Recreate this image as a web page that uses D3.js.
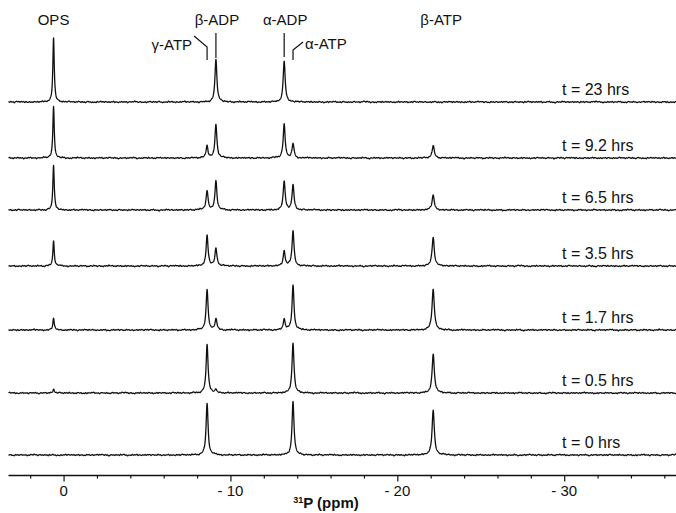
<!DOCTYPE html>
<html>
<head>
<meta charset="utf-8">
<script src="https://cdn.jsdelivr.net/npm/d3@7"></script>
<style>
  html, body { margin: 0; padding: 0; background: #fff; }
  svg { display: block; }
  text { font-family: "Liberation Sans", Arial, Helvetica, sans-serif; fill: #111; }
</style>
</head>
<body>
<svg id="chart" width="676" height="513"></svg>
<script>
// ---- data ----
const timeLabels = ["t = 23 hrs", "t = 9.2 hrs", "t = 6.5 hrs", "t = 3.5 hrs", "t = 1.7 hrs", "t = 0.5 hrs", "t = 0 hrs"];
const species = ["OPS", "γ-ATP", "β-ADP", "α-ADP", "α-ATP", "β-ATP"];
const shifts = [0.6, -8.6, -9.13, -13.22, -13.75, -22.15];         // ppm
const widths = [0.05, 0.07, 0.07, 0.07, 0.07, 0.08];              // half-width, ppm
// relative intensities (OPS at t = 23 hrs = 100), one row per spectrum
const intensOPS  = [100, 80, 69, 39, 19, 6, 0];
const intensGATP = [0, 19, 31, 48, 63, 75, 81];
const intensBADP = [66, 52, 45, 28, 17, 5, 0];
const intensAADP = [64, 53, 45, 23, 16, 0, 0];
const intensAATP = [0, 22, 39, 55, 70, 78, 84];
const intensBATP = [0, 19, 23, 45, 64, 61, 70];
const xTicks = [0, -10, -20, -30];
// fixed baseline texture (hand typed, px)
const textureFine = [0.3,-0.6,0.9,-0.2,0.5,-1.0,0.1,0.7,-0.4,0.2,-0.8,0.6,-0.1,0.4,-0.7,1.0,-0.3,0.0,0.8,-0.5,
  0.2,-0.9,0.5,0.1,-0.4,0.7,-0.6,0.3,-0.2,0.9,-0.8,0.4,0.0,-0.5,0.6,-0.1,0.8,-0.7,0.2,-0.3,
  0.5,-1.0,0.3,0.6,-0.4,0.1,-0.6,0.9,-0.2,0.4,-0.8,0.0,0.7,-0.5,0.2,-0.1,0.6,-0.9,0.3,-0.3,0.8];
const textureCoarse = [0.4,-0.3,0.7,0.1,-0.6,0.2,-0.2,0.5,-0.7,0.3,0.0,-0.4,0.6,-0.1,0.2,-0.5,0.4,-0.8,0.1,0.5,-0.3,0.3,-0.6];

const intens = [intensOPS, intensGATP, intensBADP, intensAADP, intensAATP, intensBATP];

// ---- layout ----
const svg = d3.select("#chart");
const x = d3.scaleLinear().domain([3.3, -36.7]).range([8.5, 676]);
const baselines = [102, 158, 210, 266, 330, 393, 455];
const amp = d3.scaleLinear().domain([0, 100]).range([0, 64]);

function texAt(arr, u, off) {
  const n = arr.length;
  const k = Math.floor(u), f = u - k;
  const a = arr[(k + off) % n], c = arr[(k + 1 + off) % n];
  return a * (1 - f) + c * f;
}

// spectra
const step = 0.01;
const ppmGrid = d3.range(3.3, -36.7 - step / 2, -step);
const line = d3.line().x(d => x(d[0])).y(d => d[1]);

baselines.forEach((b, ti) => {
  const pts = ppmGrid.map(p => {
    const dist = 3.3 - p;
    let yv = 0.7 * texAt(textureFine, dist / 0.07, ti * 17) + 0.6 * texAt(textureCoarse, dist / 0.3, ti * 5);
    for (let s = 0; s < species.length; s++) {
      const h = intens[s][ti];
      if (!h) continue;
      const d = (p - shifts[s]) / widths[s];
      yv += amp(h) / (1 + d * d);
    }
    return [p, b - yv];
  });
  svg.append("path")
    .attr("d", line(pts))
    .attr("fill", "none")
    .attr("stroke", "#111")
    .attr("stroke-width", 1.3)
    .attr("stroke-linejoin", "round");
  svg.append("text")
    .attr("x", 562).attr("y", b - 7)
    .attr("font-size", 16)
    .text(timeLabels[ti]);
});

// peak annotations
const topY = 25;
[["OPS", 0], ["β-ADP", 2], ["α-ADP", 3]].forEach(([lab, s]) => {
  svg.append("text").attr("x", x(shifts[s]) + (s === 0 ? 0 : 1)).attr("y", topY)
    .attr("text-anchor", "middle").attr("font-size", 15).text(lab);
});
svg.append("text").attr("x", x(shifts[5]) + 8).attr("y", topY)
  .attr("text-anchor", "middle").attr("font-size", 15).text("β-ATP");

const ann = svg.append("g").attr("stroke", "#111").attr("stroke-width", 1.2).attr("fill", "none");
ann.append("line").attr("x1", x(shifts[2])).attr("x2", x(shifts[2])).attr("y1", 33).attr("y2", 58);
ann.append("line").attr("x1", x(shifts[3])).attr("x2", x(shifts[3])).attr("y1", 33).attr("y2", 57);
ann.append("path").attr("d", `M${x(shifts[1]) - 13},36 L${x(shifts[1])},47 L${x(shifts[1])},60`);
ann.append("path").attr("d", `M${x(shifts[4]) + 10},42 L${x(shifts[4])},50 L${x(shifts[4])},60`);
svg.append("text").attr("x", x(shifts[1]) - 15).attr("y", 50)
  .attr("text-anchor", "end").attr("font-size", 15).text("γ-ATP");
svg.append("text").attr("x", x(shifts[4]) + 12).attr("y", 49)
  .attr("font-size", 15).text("α-ATP");

// axis
const axisY = 475.5;
const axis = d3.axisBottom(x)
  .tickValues(d3.range(2, -37, -2))
  .tickSize(3)
  .tickFormat("");
const gAxis = svg.append("g").attr("transform", `translate(0,${axisY})`).call(axis);
gAxis.select(".domain").attr("stroke", "#111").attr("stroke-width", 1.5)
  .attr("d", `M${x(3.3)},0H676`);
gAxis.selectAll(".tick line").attr("stroke", "#111").attr("stroke-width", 1.2)
  .attr("y2", d => xTicks.includes(d) ? 6 : 3);
xTicks.forEach(v => {
  svg.append("text").attr("x", x(v)).attr("y", 496)
    .attr("text-anchor", "middle").attr("font-size", 15)
    .text(v === 0 ? "0" : "- " + Math.abs(v));
});
const title = svg.append("text").attr("x", 326).attr("y", 508)
  .attr("text-anchor", "middle").attr("font-size", 15).attr("font-weight", "bold");
title.append("tspan").attr("font-size", 9).attr("dy", -5).text("31");
title.append("tspan").attr("dy", 5).text("P (ppm)");
</script>
</body>
</html>
